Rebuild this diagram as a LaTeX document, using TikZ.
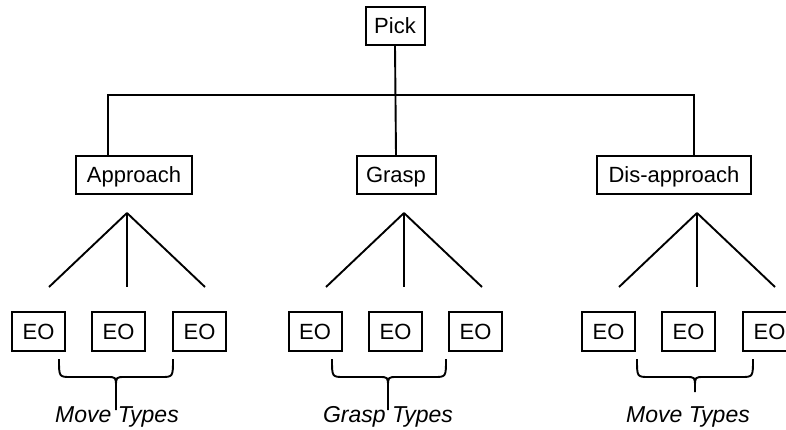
\documentclass[tikz,border=0pt]{standalone}
\usepackage{fontspec}
\setmainfont{Liberation Sans}
\usetikzlibrary{calc}
\begin{document}
\begin{tikzpicture}[x=1pt,y=-1pt,
  box/.style={draw, line width=2pt, inner sep=0pt, minimum height=38pt,
    text height=15.5pt, text depth=0pt, font=\fontsize{22}{26}\selectfont},
  eobox/.style={box, minimum width=53pt, minimum height=39pt},
  conn/.style={line width=1.9pt},
  brace/.style={line width=1.9pt, line join=round},
  lbl/.style={inner sep=0pt, font=\fontsize{23}{26}\selectfont\itshape}]
\clip (0,0) rectangle (786,430);
\fill[white] (0,0) rectangle (786,430);

% top-level nodes
\node[box, minimum width=59pt] (pick) at (395,26) {Pick};
\node[box, minimum width=116pt] (appr) at (134,175) {Approach};
\node[box, minimum width=79pt] (grasp) at (396,175) {Grasp};
\node[box, minimum width=154pt] (dis) at (674,175) {Dis-approach};

% bus
\coordinate (busL) at (108,95);
\coordinate (busR) at (694,95);
\draw[conn] (pick.south) -- (grasp.north);
\draw[conn] (appr.north -| busL) -- (busL) -- (busR) -- (dis.north -| busR);

% EO boxes
\node[eobox] (a1) at (38.5,331.5) {EO};
\node[eobox] (a2) at (118.5,331.5) {EO};
\node[eobox] (a3) at (199.5,331.5) {EO};
\node[eobox] (g1) at (315,331.5) {EO};
\node[eobox] (g2) at (395.5,331.5) {EO};
\node[eobox] (g3) at (475.5,331.5) {EO};
\node[eobox] (d1) at (608.5,331.5) {EO};
\node[eobox] (d2) at (688.5,331.5) {EO};
\node[eobox] (d3) at (769.5,331.5) {EO};

% fans
\coordinate (apA) at (127,213);
\coordinate (apG) at (404,213);
\coordinate (apD) at (697,213);
\foreach \ap in {apA,apG,apD}{
  \draw[conn] (\ap) -- ++(-78,74);
  \draw[conn] (\ap) -- ++(0,74);
  \draw[conn] (\ap) -- ++(78,74);
}

% braces
\coordinate (bA1) at (59,359);  \coordinate (bAm) at (116,410); \coordinate (bA2) at (173,359);
\coordinate (bG1) at (332,359); \coordinate (bGm) at (388,410); \coordinate (bG2) at (446,359);
\coordinate (bD1) at (637,359); \coordinate (bDm) at (695,392); \coordinate (bD2) at (753,359);
\foreach \l/\m/\r in {bA1/bAm/bA2, bG1/bGm/bG2, bD1/bDm/bD2}{
  \draw[brace] (\l) .. controls ($(\l)+(0,18)$) .. ($(\l)+(12,18)$)
     -- ($(\m|-\l)+(-9,18)$) .. controls ($(\m|-\l)+(0,18)$) .. ($(\m|-\l)+(0,28)$)
     -- (\m);
  \draw[brace] ($(\m|-\l)+(0,28)$) .. controls ($(\m|-\l)+(0,18)$) .. ($(\m|-\l)+(9,18)$)
     -- ($(\r)+(-12,18)$) .. controls ($(\r)+(0,18)$) .. (\r);
}

% labels
\node[lbl] (la) at (117,417) {Move Types};
\node[lbl] (lg) at (388,417) {Grasp Types};
\node[lbl] (ld) at (688,417) {Move Types};
\end{tikzpicture}
\end{document}
